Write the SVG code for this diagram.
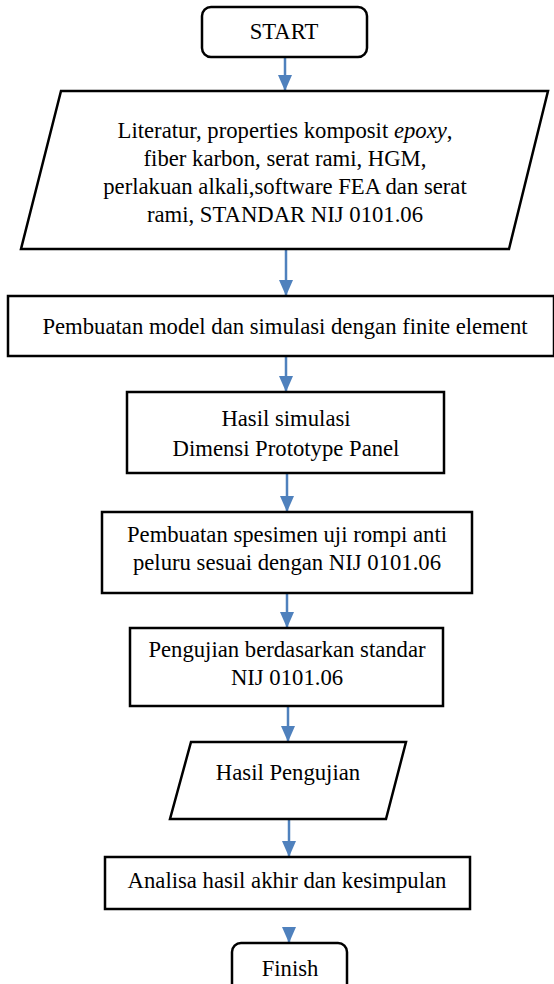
<svg xmlns="http://www.w3.org/2000/svg" width="554" height="984" viewBox="0 0 554 984">
<style>
.box{fill:#fff;stroke:#000;stroke-width:2.5}
.t{font-family:'Liberation Serif','DejaVu Serif',serif;font-size:22.7px;fill:#000;text-anchor:middle}
.c{stroke:#4F81BD;stroke-width:2.5;fill:none}
</style>
<defs>
<marker id="ah" viewBox="0 0 16 14" refX="16" refY="7" markerWidth="16" markerHeight="14" markerUnits="userSpaceOnUse" orient="auto">
<path d="M0,0 L16,7 L0,14 z" fill="#4F81BD"/>
</marker>
</defs>
<rect width="554" height="984" fill="#fff"/>
<g id="connectors">
<line class="c" x1="285" y1="57" x2="285" y2="91" marker-end="url(#ah)"/>
<line class="c" x1="286" y1="249" x2="286" y2="296" marker-end="url(#ah)"/>
<line class="c" x1="286" y1="356" x2="286" y2="392" marker-end="url(#ah)"/>
<line class="c" x1="287" y1="473" x2="287" y2="512" marker-end="url(#ah)"/>
<line class="c" x1="287" y1="593" x2="287" y2="628" marker-end="url(#ah)"/>
<line class="c" x1="288" y1="706" x2="288" y2="742" marker-end="url(#ah)"/>
<line class="c" x1="289" y1="819" x2="289" y2="857" marker-end="url(#ah)"/>
<line class="c" x1="289" y1="929" x2="289" y2="943" stroke-width="0.1" marker-end="url(#ah)"/>
</g>
<g id="start">
<rect class="box" x="202" y="7" width="165" height="50" rx="9"/>
<text class="t" x="284" y="39">START</text>
</g>
<g id="literatur">
<polygon class="box" points="61,91 548,91 509,249 21,249"/>
<text class="t" x="285" y="138">Literatur, properties komposit <tspan font-style="italic">epoxy</tspan>,</text>
<text class="t" x="285" y="166">fiber karbon, serat rami, HGM,</text>
<text class="t" x="285" y="194">perlakuan alkali,software FEA dan serat</text>
<text class="t" x="285" y="222">rami, STANDAR NIJ 0101.06</text>
</g>
<g id="model">
<rect class="box" x="8" y="296" width="546" height="60"/>
<text class="t" x="285" y="334">Pembuatan model dan simulasi dengan finite element</text>
</g>
<g id="hasil-simulasi">
<rect class="box" x="127" y="392" width="317" height="81"/>
<text class="t" x="286" y="426">Hasil simulasi</text>
<text class="t" x="286" y="456">Dimensi Prototype Panel</text>
</g>
<g id="spesimen">
<rect class="box" x="102" y="512" width="370" height="81"/>
<text class="t" x="287" y="542">Pembuatan spesimen uji rompi anti</text>
<text class="t" x="287" y="570">peluru sesuai dengan NIJ 0101.06</text>
</g>
<g id="pengujian">
<rect class="box" x="130" y="628" width="313" height="78"/>
<text class="t" x="287" y="657">Pengujian berdasarkan standar</text>
<text class="t" x="287" y="685">NIJ 0101.06</text>
</g>
<g id="hasil-pengujian">
<polygon class="box" points="191,742 406,742 386,819 170,819"/>
<text class="t" x="288" y="780">Hasil Pengujian</text>
</g>
<g id="analisa">
<rect class="box" x="105" y="857" width="365" height="52"/>
<text class="t" x="287" y="888">Analisa hasil akhir dan kesimpulan</text>
</g>
<g id="finish">
<rect class="box" x="232" y="943" width="115" height="60" rx="9"/>
<text class="t" x="290" y="976">Finish</text>
</g>
</svg>
